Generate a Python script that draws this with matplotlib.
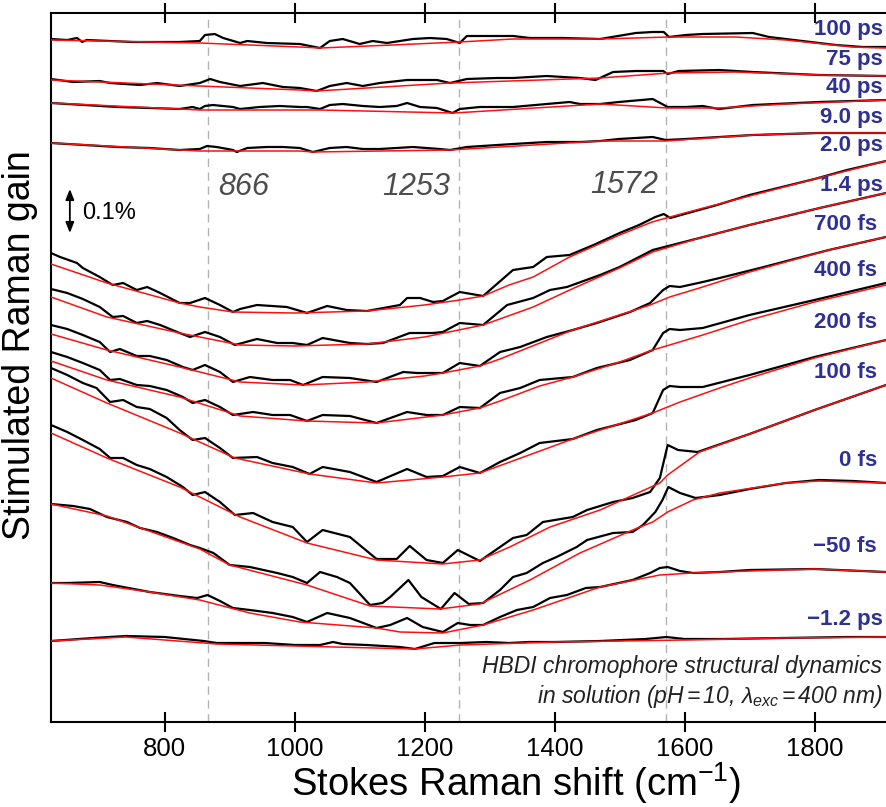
import matplotlib
matplotlib.use("Agg")
import matplotlib.pyplot as plt

plt.rcParams['font.family'] = ['Liberation Sans', 'DejaVu Sans']
plt.rcParams['mathtext.fontset'] = 'custom'
plt.rcParams['mathtext.rm'] = 'Liberation Sans'
plt.rcParams['mathtext.it'] = 'Liberation Sans:italic'
plt.rcParams['mathtext.default'] = 'regular'

# ---------------- data (wavenumber in cm^-1, signal in offset display units; 42 units = 0.1 %) ----
labels = ['100 ps', '75 ps', '40 ps', '9.0 ps', '2.0 ps', '1.4 ps', '700 fs', '400 fs',
          '200 fs', '100 fs', '0 fs', '\u221250 fs', '\u22121.2 ps']
label_pos = [30, 60, 88, 117, 146, 186, 225, 270, 323, 373, 460, 547, 620]

wn_100ps = [625, 650, 665, 673, 680, 751, 823, 854, 862, 877, 890, 916, 927, 957, 1008, 1039, 1054, 1074, 1100, 1120, 1142, 1182, 1208, 1234, 1254, 1265, 1285, 1336, 1362, 1413, 1470, 1525, 1551, 1568, 1576, 1602, 1628, 1705, 1730, 1807, 1833, 1874, 1910]
sig_100ps = [39, 40, 38, 42, 40, 42, 42, 41, 35, 34, 38, 43, 41, 43, 44, 48, 41, 39, 44, 41, 43, 39, 38, 39, 43, 36, 36, 36, 38, 38, 39, 33, 32, 32, 37, 35, 34, 33, 37, 43, 45, 47, 47]
fwn_100ps = [625, 854, 1008, 1039, 1150, 1254, 1336, 1470, 1576, 1679, 1756, 1859, 1910]
fit_100ps = [40, 43, 47, 48, 45, 42, 39, 39, 37, 37, 40, 47, 48]

wn_75ps = [625, 659, 700, 716, 762, 788, 823, 854, 870, 885, 916, 951, 982, 1008, 1034, 1054, 1080, 1105, 1131, 1173, 1219, 1239, 1265, 1311, 1336, 1388, 1439, 1463, 1490, 1525, 1567, 1574, 1591, 1653, 1705, 1807, 1910]
sig_75ps = [79, 82, 81, 83, 85, 83, 86, 83, 79, 82, 86, 83, 87, 88, 91, 86, 83, 86, 83, 80, 80, 83, 79, 78, 78, 76, 78, 80, 72, 71, 71, 74, 71, 70, 72, 75, 76]
fwn_75ps = [625, 854, 1008, 1034, 1239, 1470, 1576, 1679, 1807, 1910]
fit_75ps = [80, 86, 90, 91, 83, 78, 73, 72, 75, 76]

wn_40ps = [625, 676, 727, 777, 823, 843, 854, 862, 874, 905, 916, 946, 977, 1008, 1019, 1039, 1054, 1074, 1105, 1131, 1157, 1173, 1193, 1219, 1243, 1254, 1285, 1336, 1388, 1423, 1439, 1470, 1499, 1551, 1574, 1602, 1628, 1653, 1705, 1807, 1910]
sig_40ps = [103, 105, 107, 108, 109, 107, 109, 106, 105, 107, 109, 107, 106, 107, 107, 109, 105, 104, 106, 107, 106, 103, 107, 108, 113, 109, 107, 107, 104, 102, 104, 104, 102, 99, 107, 107, 106, 109, 105, 102, 100]
fwn_40ps = [625, 854, 1039, 1245, 1470, 1574, 1653, 1756, 1910]
fit_40ps = [103, 110, 110, 113, 104, 108, 108, 104, 100]

wn_9ps = [625, 676, 727, 777, 823, 854, 865, 880, 905, 911, 927, 957, 982, 1008, 1028, 1054, 1080, 1105, 1131, 1182, 1223, 1239, 1265, 1336, 1388, 1439, 1470, 1499, 1551, 1571, 1602, 1705, 1807, 1859, 1910]
sig_9ps = [143, 145, 147, 148, 150, 149, 146, 147, 150, 152, 148, 147, 147, 148, 152, 148, 147, 149, 149, 147, 149, 150, 147, 144, 142, 142, 141, 139, 137, 140, 139, 135, 133, 133, 133]
fwn_9ps = [625, 854, 1008, 1028, 1239, 1470, 1571, 1705, 1807, 1910]
fit_9ps = [143, 151, 151, 152, 150, 141, 141, 135, 133, 133]

wn_2ps = [625, 639, 665, 674, 700, 720, 736, 757, 773, 793, 823, 839, 862, 885, 905, 916, 942, 965, 988, 1019, 1050, 1080, 1111, 1162, 1173, 1193, 1213, 1228, 1254, 1290, 1336, 1367, 1388, 1423, 1460, 1500, 1530, 1555, 1568, 1578, 1600, 1650, 1700, 1750, 1800, 1850, 1910]
sig_2ps = [253, 257, 263, 268, 277, 285, 283, 290, 287, 293, 303, 303, 298, 305, 312, 309, 305, 306, 307, 313, 306, 310, 311, 305, 298, 298, 302, 301, 292, 296, 270, 267, 257, 255, 245, 233, 225, 217, 214, 218, 214, 205, 195, 187, 179, 170, 161]
fwn_2ps = [625, 711, 823, 854, 905, 1000, 1111, 1200, 1254, 1290, 1330, 1367, 1423, 1500, 1550, 1600, 1700, 1800, 1910]
fit_2ps = [264, 283, 303, 307, 312, 313, 311, 305, 300, 296, 285, 277, 257, 235, 222, 213, 196, 179, 161]

wn_1p4ps = [625, 650, 674, 700, 720, 736, 757, 773, 793, 823, 839, 862, 885, 908, 942, 973, 997, 1019, 1043, 1085, 1111, 1136, 1177, 1213, 1228, 1254, 1290, 1327, 1367, 1393, 1419, 1470, 1500, 1551, 1623, 1700, 1808, 1910]
sig_1p4ps = [289, 293, 299, 307, 317, 316, 323, 321, 325, 333, 337, 332, 337, 345, 339, 343, 343, 345, 338, 343, 344, 343, 333, 333, 332, 323, 325, 305, 298, 290, 287, 275, 267, 250, 238, 225, 208, 193]
fwn_1p4ps = [625, 711, 823, 916, 1000, 1111, 1200, 1290, 1367, 1430, 1500, 1551, 1623, 1700, 1808, 1910]
fit_1p4ps = [297, 317, 333, 345, 346, 344, 337, 325, 307, 288, 268, 252, 238, 225, 208, 193]

wn_700fs = [625, 650, 674, 700, 716, 731, 757, 777, 803, 828, 843, 862, 885, 905, 931, 966, 993, 1013, 1043, 1085, 1126, 1167, 1188, 1228, 1254, 1285, 1316, 1347, 1388, 1428, 1465, 1516, 1547, 1567, 1577, 1593, 1628, 1654, 1716, 1822, 1910]
sig_700fs = [325, 329, 335, 342, 352, 349, 356, 356, 360, 367, 370, 365, 372, 382, 377, 380, 380, 385, 377, 378, 382, 372, 373, 373, 363, 366, 352, 347, 337, 330, 323, 312, 303, 290, 286, 287, 282, 278, 268, 250, 237]
fwn_700fs = [625, 711, 823, 916, 1013, 1111, 1200, 1228, 1285, 1316, 1362, 1428, 1500, 1547, 1577, 1628, 1700, 1822, 1910]
fit_700fs = [334, 350, 367, 382, 385, 382, 376, 373, 366, 359, 347, 330, 315, 305, 297, 287, 272, 250, 237]

wn_400fs = [625, 650, 674, 700, 716, 731, 757, 777, 803, 828, 843, 862, 885, 905, 936, 966, 993, 1019, 1043, 1085, 1126, 1173, 1203, 1228, 1254, 1285, 1316, 1347, 1377, 1428, 1465, 1516, 1551, 1567, 1577, 1593, 1628, 1700, 1800, 1910]
sig_400fs = [352, 357, 363, 370, 380, 379, 385, 386, 390, 397, 403, 400, 407, 415, 412, 415, 415, 421, 415, 416, 423, 412, 415, 415, 407, 408, 393, 388, 380, 377, 368, 360, 350, 333, 329, 330, 328, 315, 300, 283]
fwn_400fs = [625, 711, 823, 916, 1019, 1126, 1228, 1285, 1316, 1377, 1428, 1500, 1551, 1577, 1628, 1700, 1800, 1910]
fit_400fs = [361, 380, 397, 416, 421, 423, 415, 408, 401, 386, 377, 362, 350, 345, 335, 320, 302, 285]

wn_200fs = [625, 650, 674, 695, 716, 736, 757, 777, 803, 823, 843, 862, 885, 905, 942, 966, 997, 1023, 1043, 1085, 1126, 1173, 1203, 1228, 1254, 1285, 1316, 1347, 1377, 1428, 1465, 1525, 1551, 1567, 1577, 1593, 1628, 1700, 1800, 1910]
sig_200fs = [368, 375, 383, 388, 402, 400, 407, 409, 418, 430, 440, 438, 448, 458, 457, 463, 467, 474, 467, 472, 482, 469, 477, 476, 467, 473, 462, 453, 443, 439, 430, 420, 413, 390, 386, 387, 387, 375, 357, 340]
fwn_200fs = [625, 711, 823, 908, 1023, 1126, 1228, 1285, 1428, 1551, 1593, 1654, 1700, 1800, 1910]
fit_200fs = [378, 403, 433, 458, 474, 483, 477, 473, 439, 413, 402, 388, 378, 358, 340]

wn_100fs = [625, 650, 674, 700, 716, 736, 757, 777, 803, 828, 843, 862, 885, 908, 936, 966, 997, 1019, 1043, 1085, 1126, 1157, 1177, 1203, 1228, 1251, 1285, 1316, 1336, 1357, 1382, 1428, 1450, 1490, 1520, 1547, 1562, 1574, 1590, 1620, 1700, 1800, 1910]
sig_100fs = [425, 432, 440, 449, 458, 458, 465, 469, 477, 487, 495, 492, 502, 515, 513, 522, 527, 542, 530, 537, 559, 559, 546, 560, 563, 550, 561, 547, 538, 535, 522, 517, 510, 502, 498, 492, 478, 445, 450, 452, 434, 410, 385]
fwn_100fs = [625, 711, 823, 916, 1019, 1126, 1228, 1285, 1331, 1393, 1470, 1562, 1574, 1623, 1700, 1800, 1910]
fit_100fs = [433, 458, 487, 517, 543, 560, 564, 560, 547, 527, 510, 483, 475, 452, 434, 410, 385]

wn_0fs = [625, 659, 685, 711, 742, 762, 788, 813, 839, 854, 875, 900, 931, 973, 997, 1019, 1039, 1065, 1085, 1116, 1135, 1147, 1175, 1195, 1225, 1246, 1268, 1290, 1316, 1336, 1357, 1382, 1403, 1434, 1450, 1490, 1520, 1536, 1555, 1566, 1575, 1593, 1617, 1654, 1700, 1756, 1807, 1860, 1910]
sig_0fs = [504, 506, 509, 517, 522, 528, 532, 538, 545, 548, 553, 565, 567, 573, 577, 583, 572, 577, 583, 605, 603, 597, 580, 597, 609, 593, 604, 603, 590, 577, 573, 563, 557, 547, 540, 533, 532, 525, 512, 500, 487, 493, 498, 495, 489, 483, 480, 481, 483]
fwn_0fs = [625, 711, 854, 900, 1019, 1116, 1223, 1285, 1362, 1439, 1520, 1551, 1574, 1613, 1654, 1756, 1807, 1910]
fit_0fs = [504, 516, 549, 565, 585, 606, 609, 604, 580, 553, 530, 522, 512, 500, 493, 483, 481, 483]

wn_m50fs = [625, 650, 700, 720, 777, 823, 850, 866, 885, 905, 931, 966, 997, 1019, 1050, 1085, 1126, 1147, 1173, 1197, 1228, 1251, 1270, 1290, 1316, 1342, 1367, 1393, 1419, 1448, 1470, 1520, 1547, 1562, 1574, 1593, 1613, 1654, 1700, 1800, 1910]
sig_m50fs = [583, 583, 582, 585, 592, 596, 598, 595, 601, 608, 610, 613, 617, 622, 613, 618, 628, 625, 618, 627, 632, 623, 625, 625, 617, 610, 607, 598, 595, 588, 587, 580, 573, 568, 567, 571, 573, 572, 570, 569, 572]
fwn_m50fs = [625, 700, 777, 854, 931, 1008, 1126, 1162, 1228, 1290, 1367, 1470, 1562, 1613, 1700, 1800, 1910]
fit_m50fs = [583, 585, 592, 600, 613, 622, 628, 632, 633, 625, 610, 587, 575, 573, 571, 569, 572]

wn_m1p2ps = [625, 690, 740, 800, 860, 880, 954, 1000, 1039, 1059, 1074, 1111, 1162, 1185, 1215, 1255, 1295, 1330, 1360, 1400, 1470, 1540, 1572, 1600, 1660, 1750, 1850, 1910]
sig_m1p2ps = [641, 638, 636, 637, 641, 643, 643, 645, 645, 642, 644, 645, 647, 649, 643, 643, 642, 643, 642, 642, 641, 639, 637, 639, 639, 638, 637, 637]
fwn_m1p2ps = [625, 740, 880, 1000, 1185, 1255, 1400, 1600, 1750, 1910]
fit_m1p2ps = [641, 637, 644, 646, 649, 645, 642, 640, 638, 637]

traces = [
    (wn_100ps, sig_100ps, fwn_100ps, fit_100ps),
    (wn_75ps, sig_75ps, fwn_75ps, fit_75ps),
    (wn_40ps, sig_40ps, fwn_40ps, fit_40ps),
    (wn_9ps, sig_9ps, fwn_9ps, fit_9ps),
    (wn_2ps, sig_2ps, fwn_2ps, fit_2ps),
    (wn_1p4ps, sig_1p4ps, fwn_1p4ps, fit_1p4ps),
    (wn_700fs, sig_700fs, fwn_700fs, fit_700fs),
    (wn_400fs, sig_400fs, fwn_400fs, fit_400fs),
    (wn_200fs, sig_200fs, fwn_200fs, fit_200fs),
    (wn_100fs, sig_100fs, fwn_100fs, fit_100fs),
    (wn_0fs, sig_0fs, fwn_0fs, fit_0fs),
    (wn_m50fs, sig_m50fs, fwn_m50fs, fit_m50fs),
    (wn_m1p2ps, sig_m1p2ps, fwn_m1p2ps, fit_m1p2ps),
]

mode_positions = [866, 1253, 1572]
mode_labels = ['866', '1253', '1572']
xticks = [800, 1000, 1200, 1400, 1600, 1800]

# ---------------- figure ----------------
fig = plt.figure(figsize=(8.86, 8.07), dpi=100)
ax = fig.add_axes([51 / 886, 85 / 807, 835 / 886, 709 / 807])
ax.set_xlim(625, 1910)
ax.set_ylim(722, 13)

for m in mode_positions:
    ax.axvline(m, color='#b3b3b3', lw=1.0, ls=(0, (6, 4)), zorder=1)

for wn, sig, fwn, fit in traces:
    ax.plot(wn, sig, color='black', lw=1.6, zorder=3, solid_joinstyle='round')
    ax.plot(fwn, fit, color='#ff1010', lw=1.1, zorder=4, solid_joinstyle='round')

navy = '#2e3192'
for lab, yy in zip(labels, label_pos):
    xr = 1905 if lab.endswith('ps') else 1896
    ax.text(xr, yy, lab, ha='right', va='center', fontsize=16, fontweight='bold', color=navy, zorder=5)

ax.text(882, 187, mode_labels[0], ha='left', va='center', fontsize=22, style='italic', color='#4d4d4d')
ax.text(1240, 187, mode_labels[1], ha='right', va='center', fontsize=22, style='italic', color='#4d4d4d')
ax.text(1560, 185, mode_labels[2], ha='right', va='center', fontsize=22, style='italic', color='#4d4d4d')

# scale bar
ax.annotate('', xy=(654, 189), xytext=(654, 233),
            arrowprops=dict(arrowstyle='<|-|>,head_length=0.45,head_width=0.18', lw=1.3,
                            color='black', mutation_scale=14, shrinkA=0, shrinkB=0))
ax.text(673, 213, '0.1%', ha='left', va='center', fontsize=17, color='black')

ax.text(1904, 667, 'HBDI chromophore structural dynamics', ha='right', va='center',
        fontsize=16.5, style='italic', color='#222222')
ax.text(1904, 696, 'in solution (pH$\\,$=$\\,$10, \u03bb$_{\\mathit{exc}}$$\\,$=$\\,$400 nm)', ha='right', va='center',
        fontsize=16.5, style='italic', color='#222222')

ax.set_xticks(xticks)
ax.set_yticks([])
ax.tick_params(axis='x', which='both', top=True, bottom=True, direction='inout', length=14,
               width=1.5, labelsize=18.5, pad=4)
for s in ['left', 'bottom', 'top']:
    ax.spines[s].set_linewidth(1.5)
ax.spines['right'].set_visible(False)

fig.text(516 / 886, 1 - 796 / 807, 'Stokes Raman shift (cm$^{-1}$)', ha='center', va='baseline', fontsize=27.5)
fig.text(20 / 886, 1 - 345 / 807, 'Stimulated Raman gain', ha='center', va='center', rotation=90, fontsize=27)

fig.savefig('out.png', dpi=100)
